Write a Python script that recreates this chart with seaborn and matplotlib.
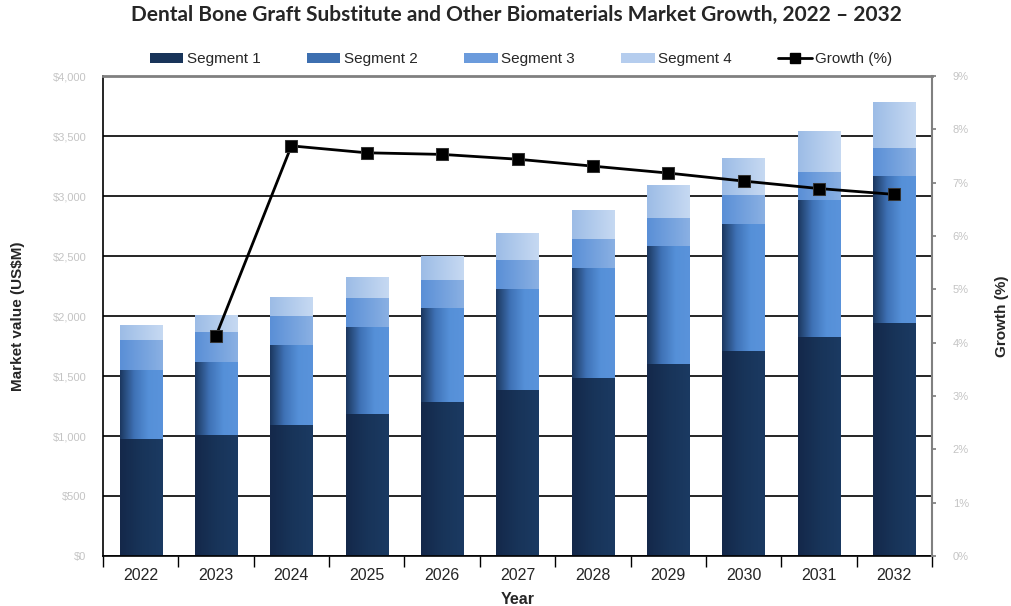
import numpy as np
import pandas as pd
import matplotlib
matplotlib.use("Agg")
import matplotlib.pyplot as plt
import seaborn as sns
from matplotlib.patches import Patch
from matplotlib.lines import Line2D
from matplotlib.colors import to_rgb

years = ["2022", "2023", "2024", "2025", "2026", "2027", "2028", "2029", "2030", "2031", "2032"]
segment1 = [975, 1008, 1092, 1183, 1283, 1383, 1483, 1600, 1708, 1825, 1942]
segment2 = [575, 609, 666, 725, 784, 842, 917, 983, 1059, 1142, 1225]
segment3 = [250, 250, 242, 242, 233, 242, 242, 234, 241, 233, 233]
segment4 = [125, 141, 158, 175, 200, 225, 241, 275, 309, 342, 383]
growth_years = ["2023", "2024", "2025", "2026", "2027", "2028", "2029", "2030", "2031", "2032"]
growth = [4.13, 7.69, 7.56, 7.53, 7.44, 7.31, 7.18, 7.03, 6.89, 6.78]
left_ticks = [0, 500, 1000, 1500, 2000, 2500, 3000, 3500, 4000]
left_labels = ["$0", "$500", "$1,000", "$1,500", "$2,000", "$2,500", "$3,000", "$3,500", "$4,000"]
right_ticks = list(range(10))
right_labels = [f"{v}%" for v in right_ticks]
series_names = ["Segment 1", "Segment 2", "Segment 3", "Segment 4"]

# gradient stops (left -> right) for each segment
grad_stops = {
    "Segment 1": ["#14284a", "#183459", "#1b3a62"],
    "Segment 2": ["#1c3860", "#3f72b6", "#5590d8", "#5a93db"],
    "Segment 3": ["#5a8fd6", "#72a0dd", "#8ab0e3"],
    "Segment 4": ["#9cbce6", "#b2cbec", "#c6d9f2"],
}
solid = {"Segment 1": "#183459", "Segment 2": "#3d6fb0", "Segment 3": "#6b9bdc", "Segment 4": "#b5cdee"}

sns.set_theme(style="white")
base = ["Liberation Sans", "DejaVu Sans"]
plt.rcParams["font.family"] = base

fig = plt.figure(figsize=(10.12, 6.06), dpi=100)
ax = fig.add_axes([103 / 1012, 50 / 606, (932 - 103) / 1012, (556 - 76) / 606])

def gradient(stops, n=64):
    cols = np.array([to_rgb(c) for c in stops])
    xs = np.linspace(0, 1, len(stops))
    t = np.linspace(0, 1, n)
    arr = np.stack([np.interp(t, xs, cols[:, k]) for k in range(3)], axis=-1)
    return arr[np.newaxis, :, :]

segs = [segment1, segment2, segment3, segment4]
cum = np.cumsum(np.array(segs), axis=0)
df = pd.DataFrame({"year": years})
z = 2.0
for i in [3, 2, 1, 0]:
    name = series_names[i]
    df["val"] = cum[i]
    n_before = len(ax.patches)
    sns.barplot(data=df, x="year", y="val", color=solid[name], width=0.56,
                saturation=1, ax=ax, zorder=z, linewidth=0)
    new = ax.patches[n_before:]
    img = gradient(grad_stops[name])
    for p in new:
        x0, y0 = p.get_x(), p.get_y()
        w, h = p.get_width(), p.get_height()
        im = ax.imshow(img, extent=(x0, x0 + w, y0, y0 + h), aspect="auto",
                       zorder=z + 0.05, interpolation="bilinear")
        im.set_clip_path(p)
    z += 0.1

ax.set_xlim(-0.5, len(years) - 0.5)
ax.set_ylim(0, 4000)
ax.set_yticks(left_ticks)
ax.set_yticklabels(left_labels)
ax.tick_params(axis="y", length=0, labelsize=8, labelcolor="#c4c4c4", pad=12)
ax.grid(axis="y", color="black", linewidth=1.2)
ax.grid(axis="x", visible=False)
ax.set_axisbelow(True)

ax.set_xticks(np.arange(-0.5, len(years), 1.0))
ax.set_xticklabels([])
ax.set_xticks(np.arange(len(years)), minor=True)
ax.set_xticklabels(years, minor=True, fontsize=11.5)
ax.tick_params(axis="x", which="major", direction="out", length=8, width=1, color="black", bottom=True)
ax.tick_params(axis="x", which="minor", length=0, pad=9, bottom=True)
ax.set_xlabel("Year", fontsize=11.5, fontweight="bold", labelpad=6)
ax.set_ylabel("Market value (US$M)", fontsize=11, fontweight="bold", labelpad=20)

for s in ["left", "bottom"]:
    ax.spines[s].set_color("black")
    ax.spines[s].set_linewidth(1.2)
ax.spines["top"].set_color("#808080")
ax.spines["top"].set_linewidth(2)
ax.spines["right"].set_visible(False)

ax2 = ax.twinx()
xpos = [years.index(y) for y in growth_years]
gdf = pd.DataFrame({"x": xpos, "g": growth})
sns.lineplot(data=gdf, x="x", y="g", ax=ax2, color="black", linewidth=2,
             marker="s", markersize=8, markeredgecolor="#333333", zorder=5)
ax2.set_ylim(0, 9)
ax2.set_yticks(right_ticks)
ax2.set_yticklabels(right_labels)
ax2.tick_params(axis="y", length=3, color="#808080", labelsize=8, labelcolor="#c4c4c4", pad=12)
ax2.set_ylabel("Growth (%)", fontsize=11, fontweight="bold", labelpad=19)
ax2.set_xlim(-0.5, len(years) - 0.5)
ax2.grid(False)
for s in ["left", "bottom", "top"]:
    ax2.spines[s].set_visible(False)
ax2.spines["right"].set_color("#808080")
ax2.spines["right"].set_linewidth(1.5)

handles = [Patch(facecolor=solid[n], edgecolor="none") for n in series_names]
handles.append(Line2D([0], [0], color="black", linewidth=2, marker="s", markersize=7))
labels = series_names + ["Growth (%)"]
fig.legend(handles, labels, loc="center", bbox_to_anchor=(0.515, 0.902), ncol=5,
           frameon=False, prop={"size": 11}, handlelength=2.2,
           handleheight=0.6, columnspacing=3.0, handletextpad=0.25)

fig.text(0.51, 0.975, "Dental Bone Graft Substitute and Other Biomaterials Market Growth, 2022 \u2013 2032",
         ha="center", va="center", fontsize=15, fontweight="bold", family=["Lato", "DejaVu Sans"])

fig.savefig("out.png", dpi=100)
